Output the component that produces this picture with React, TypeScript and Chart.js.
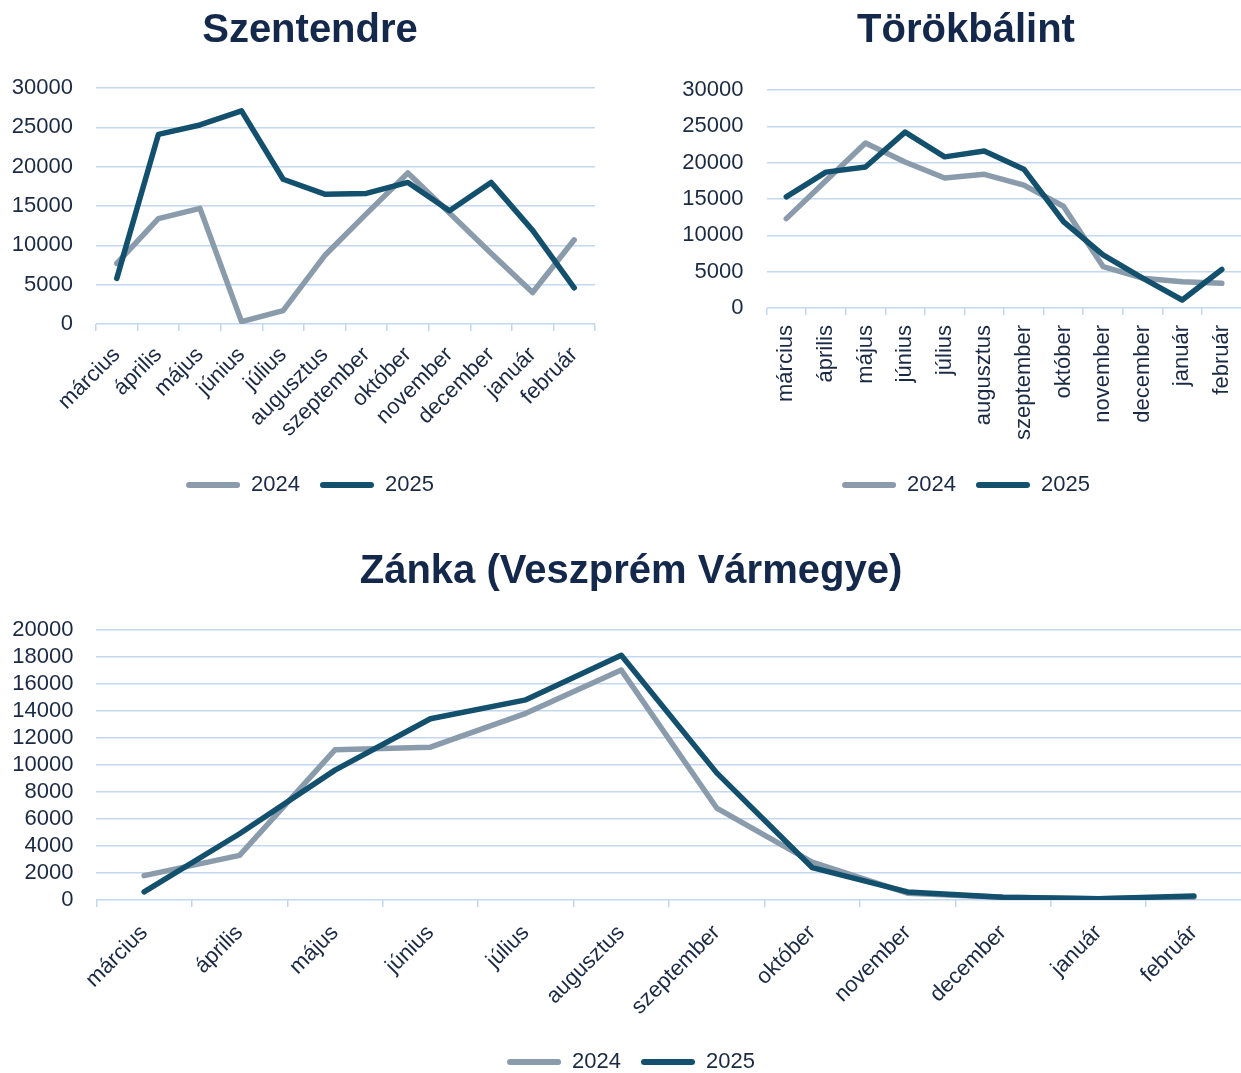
import React, { useEffect, useRef } from 'react';
import Chart from 'chart.js/auto';

// ---------- data ----------
const MONTHS = ['március', 'április', 'május', 'június', 'július', 'augusztus', 'szeptember', 'október', 'november', 'december', 'január', 'február'];
const SERIES_NAMES = ['2024', '2025'];

const SZENTENDRE_2024 = [7700, 13400, 14700, 300, 1700, 8700, 14000, 19200, 14100, 9000, 4000, 10700];
const SZENTENDRE_2025 = [5800, 24100, 25300, 27100, 18400, 16500, 16600, 18000, 14400, 18000, 11900, 4600];

const TOROKBALINT_2024 = [12300, 17500, 22700, 20100, 17900, 18400, 16900, 14000, 5700, 4100, 3600, 3400];
const TOROKBALINT_2025 = [15300, 18700, 19400, 24200, 20800, 21600, 19100, 11900, 7300, 4100, 1100, 5300];

const ZANKA_2024 = [1800, 3300, 11100, 11300, 13800, 17000, 6800, 2800, 500, 200, 100, 200];
const ZANKA_2025 = [600, 4900, 9600, 13400, 14800, 18100, 9400, 2400, 600, 200, 100, 300];

const TOP_Y_MAX = 30000;
const TOP_Y_STEP = 5000;
const BOTTOM_Y_MAX = 20000;
const BOTTOM_Y_STEP = 2000;

// ---------- style ----------
const COLOR_2024 = '#8a9bac';
const COLOR_2025 = '#13506d';
const GRID = '#c3d8f0';
const TEXT = '#1b2a44';
const TITLE = '#13284a';
const FONT = "'Liberation Sans', Arial, sans-serif";

if (typeof document !== 'undefined') {
  document.body.style.margin = '0';
}

type Geo = {
  left: number; top: number; w: number; h: number;
  pl: number; yWidth: number; rightPad: number;
  titleTop: number; titleBottom: number;
  xHeight: number; rotation: number; xPad: number;
  yMax: number; yStep: number;
};

function LineChart({ title, d2024, d2025, geo }: { title: string; d2024: number[]; d2025: number[]; geo: Geo }) {
  const ref = useRef<HTMLCanvasElement>(null);
  useEffect(() => {
    const g = geo;
    const scales: any = {
      x: {
        type: 'category',
        offset: true,
        grid: { offset: true, drawOnChartArea: false, drawTicks: true, tickLength: 7, color: GRID, lineWidth: 1.5 },
        border: { display: false },
        ticks: {
          autoSkip: false,
          minRotation: g.rotation,
          maxRotation: g.rotation,
          padding: g.xPad,
          color: TEXT,
          font: { family: FONT, size: 22 },
        },
        afterFit: (s: any) => { s.height = g.xHeight; },
      },
      y: {
        type: 'linear',
        min: 0,
        max: g.yMax,
        ticks: {
          stepSize: g.yStep,
          autoSkip: false,
          padding: 23,
          color: TEXT,
          font: { family: FONT, size: 22 },
          callback: (v: any) => String(v),
        },
        grid: { drawTicks: false, color: GRID, lineWidth: 1.5 },
        border: { display: false },
        afterFit: (s: any) => { s.width = g.yWidth; },
      },
    };
    if (g.rightPad > 0) {
      scales.y2 = {
        type: 'linear',
        position: 'right',
        display: true,
        grid: { display: false },
        border: { display: false },
        ticks: { display: false },
        afterFit: (s: any) => { s.width = g.rightPad; },
      };
    }
    const chart = new Chart(ref.current as HTMLCanvasElement, {
      type: 'line',
      data: {
        labels: MONTHS,
        datasets: [
          {
            label: SERIES_NAMES[0], data: d2024, borderColor: COLOR_2024, backgroundColor: COLOR_2024,
            borderWidth: 5.5, pointRadius: 0, pointHoverRadius: 0, tension: 0, fill: false,
            borderJoinStyle: 'round', borderCapStyle: 'round', order: 1, yAxisID: 'y',
          },
          {
            label: SERIES_NAMES[1], data: d2025, borderColor: COLOR_2025, backgroundColor: COLOR_2025,
            borderWidth: 5.5, pointRadius: 0, pointHoverRadius: 0, tension: 0, fill: false,
            borderJoinStyle: 'round', borderCapStyle: 'round', order: 0, yAxisID: 'y',
          },
        ],
      },
      options: {
        responsive: false,
        animation: false,
        devicePixelRatio: 1,
        layout: { padding: { left: g.pl, right: 0, top: 0, bottom: 0 } },
        scales,
        plugins: {
          tooltip: { enabled: false },
          title: {
            display: true,
            text: title,
            color: TITLE,
            font: { family: FONT, size: 40, weight: 'bold', lineHeight: 1.2 },
            padding: { top: g.titleTop, bottom: g.titleBottom },
          },
          legend: {
            display: true,
            position: 'bottom',
            labels: {
              color: TEXT,
              font: { family: FONT, size: 22 },
              boxWidth: 54,
              boxHeight: 6,
              padding: 20,
              sort: (a: any, b: any) => a.datasetIndex - b.datasetIndex,
              generateLabels: (c: any) => {
                const items = (Chart as any).defaults.plugins.legend.labels.generateLabels(c);
                return items.map((it: any) => ({
                  ...it,
                  fillStyle: it.strokeStyle,
                  lineWidth: 0,
                  borderRadius: 3,
                }));
              },
            },
          },
        },
      } as any,
    });
    return () => chart.destroy();
  }, []);
  return (
    <canvas
      ref={ref}
      width={geo.w}
      height={geo.h}
      style={{ position: 'absolute', left: geo.left, top: geo.top, width: geo.w, height: geo.h }}
    />
  );
}

const GEO_SZENTENDRE: Geo = {
  left: 0, top: 0, w: 620, h: 506, pl: 0, yWidth: 96, rightPad: 25,
  titleTop: 7, titleBottom: 33, xHeight: 130, rotation: 45, xPad: 11,
  yMax: TOP_Y_MAX, yStep: TOP_Y_STEP,
};
const GEO_TOROKBALINT: Geo = {
  left: 660, top: 0, w: 602, h: 506, pl: 10, yWidth: 96.5, rightPad: 20.4,
  titleTop: 7, titleBottom: 35, xHeight: 146, rotation: 90, xPad: 10,
  yMax: TOP_Y_MAX, yStep: TOP_Y_STEP,
};
const GEO_ZANKA: Geo = {
  left: 0, top: 540, w: 1262, h: 543, pl: 0, yWidth: 96.4, rightPad: 20.4,
  titleTop: 8, titleBottom: 33.5, xHeight: 131, rotation: 45, xPad: 13,
  yMax: BOTTOM_Y_MAX, yStep: BOTTOM_Y_STEP,
};

export default function App() {
  return (
    <div style={{ position: 'relative', width: 1241, height: 1073, overflow: 'hidden', background: '#fff' }}>
      <LineChart title="Szentendre" d2024={SZENTENDRE_2024} d2025={SZENTENDRE_2025} geo={GEO_SZENTENDRE} />
      <LineChart title="Törökbálint" d2024={TOROKBALINT_2024} d2025={TOROKBALINT_2025} geo={GEO_TOROKBALINT} />
      <LineChart title="Zánka (Veszprém Vármegye)" d2024={ZANKA_2024} d2025={ZANKA_2025} geo={GEO_ZANKA} />
    </div>
  );
}
